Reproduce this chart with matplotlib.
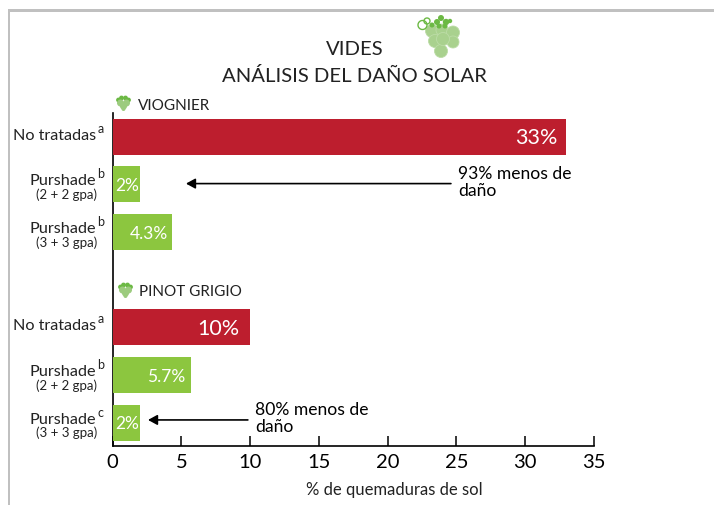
import matplotlib
matplotlib.use("Agg")
import matplotlib.pyplot as plt
from matplotlib.patches import Circle, Rectangle, Arc

plt.rcParams['font.family'] = ['Lato', 'DejaVu Sans']

W, H = 714, 506
# --- data ---
group_a = "VIOGNIER"
group_b = "PINOT GRIGIO"
base_labels = ["No tratadas", "Purshade", "Purshade", "No tratadas", "Purshade", "Purshade"]
superscripts = ["a", "b", "b", "a", "b", "c"]
rates = ["", "(2 + 2 gpa)", "(3 + 3 gpa)", "", "(2 + 2 gpa)", "(3 + 3 gpa)"]
values = [33, 2, 4.3, 10, 5.7, 2]
value_labels = ["33%", "2%", "4.3%", "10%", "5.7%", "2%"]
slots = [0, 1, 2, 4, 5, 6]
xticks = [0, 5, 10, 15, 20, 25, 30, 35]
title = ["VIDES", "ANÁLISIS DEL DAÑO SOLAR"]
xlabel = "% de quemaduras de sol"
note_a = ["93% menos de", "daño"]
note_b = ["80% menos de", "daño"]

RED = "#bd1e2e"
GREEN = "#8cc63f"
colors = [RED, GREEN, GREEN, RED, GREEN, GREEN]
label_sizes = [15.5, 12.5, 12.5, 15.5, 12.5, 12.5]
label_pad = [-9, -1, -4, -11, -6, -1]

fig = plt.figure(figsize=(W / 100, H / 100), dpi=100, facecolor="white")

# pixel-coordinate overlay for frame, icons and free text
ov = fig.add_axes([0, 0, 1, 1], zorder=0)
ov.set_xlim(0, W)
ov.set_ylim(H, 0)
ov.axis("off")
ov.add_patch(Rectangle((8, 10), W - 8, 2.6, color="#c0c0c0", lw=0))
ov.add_patch(Rectangle((8, 10), 2.4, H - 10, color="#c0c0c0", lw=0))

ax = fig.add_axes([112.5 / W, 1 - 446.7 / H, (594 - 112.5) / W, (446 - 113) / H], zorder=2)
ax.patch.set_alpha(0)
ax.barh(slots, values, height=0.755, color=colors, zorder=3)
ax.set_xlim(0, 35)
ax.set_ylim(6.48, -0.5)
ax.set_yticks([])
ax.set_xticks(xticks)
ax.tick_params(axis="x", direction="in", length=7, width=1.1, labelsize=14.5, pad=5, color="black")
for s in ("top", "right"):
    ax.spines[s].set_visible(False)
for s in ("left", "bottom"):
    ax.spines[s].set_linewidth(1.2)

for v, y, lab, c_size, pad in zip(values, slots, value_labels, label_sizes, label_pad):
    ax.annotate(lab, (v, y), xytext=(pad * 0.72, -0.5), textcoords="offset points",
                ha="right", va="center", color="white", fontsize=c_size, zorder=5,
                annotation_clip=False)

for y_slot, base, sup, rate in zip(slots, base_labels, superscripts, rates):
    yc = 137.5 + y_slot * 47.67
    yb = yc - 4 if rate else yc - 2
    ov.text(96.5, yb, base, ha="right", va="center", fontsize=11.7, color="#222222")
    ov.text(97.5, yb - 7, sup, ha="left", va="center", fontsize=9, color="#222222")
    if rate:
        ov.text(97, yc + 9.5, rate, ha="right", va="center", fontsize=9.5, color="#222222")

for tail, head, y in ((24.6, 5.34, 0.986), (9.84, 2.58, 5.94)):
    ax.annotate("", xy=(head, y), xytext=(tail, y),
                arrowprops=dict(arrowstyle="-|>,head_length=0.55,head_width=0.3",
                                color="black", lw=1.2, shrinkA=0, shrinkB=0), zorder=4)

for (x0, y0, lines) in ((458, 174, note_a), (255, 410.5, note_b)):
    for i, line in enumerate(lines):
        ov.text(x0, y0 + i * 17, line, ha="left", va="center", fontsize=12.6, color="black")

ov.text(354.5, 49, title[0], ha="center", va="center", fontsize=14.6, color="#222222")
ov.text(354.5, 75.5, title[1], ha="center", va="center", fontsize=14.6, color="#222222")
ov.text(137.5, 106, group_a, ha="left", va="center", fontsize=11, color="#222222")
ov.text(139, 292, group_b, ha="left", va="center", fontsize=11, color="#222222")
ov.text(394, 490, xlabel, ha="center", va="center", fontsize=12, color="#222222")


def grapes(cx, cy):
    for dx, dy, r in [(-10, -8, 6.5), (0, -9, 6), (11, -6.5, 6.5), (-7, 2, 6.5), (11, 3, 6),
                      (-1, 12, 6.5), (1, 0, 6.5)]:
        ov.add_patch(Circle((cx + dx, cy + dy), r, fc="#a9d18e", ec="#bcdca6", lw=0.6))
    for dx, dy, r in [(-10, -14, 2.5), (-5, -17, 3), (-1, -21, 3), (4, -17, 3.2),
                      (8, -18, 2.2), (-3, -13, 2.5), (3, -13, 2.5)]:
        ov.add_patch(Circle((cx + dx, cy + dy), r, fc="#6cb944", lw=0))


grapes(442, 40)
ov.add_patch(Arc((422.5, 26), 9, 9, ec="#6cb944", lw=1))
ov.add_patch(Arc((427, 22), 6, 6, ec="#6cb944", lw=1))


def leaf(cx, cy):
    for dx, dy, r in [(-5, -3, 2.4), (-2, -5, 2.4), (2, -5, 2.4), (5, -3, 2.4), (-3, 0, 3.5), (3, 0, 3.5),
                      (0, 3, 3.6), (0, 6, 2)]:
        ov.add_patch(Circle((cx + dx, cy + dy), r, fc="#9ccb7e" if dy > -3 else "#6cb944", lw=0))


leaf(123.5, 104)
leaf(125.5, 291)

fig.savefig("out.png", dpi=100)
